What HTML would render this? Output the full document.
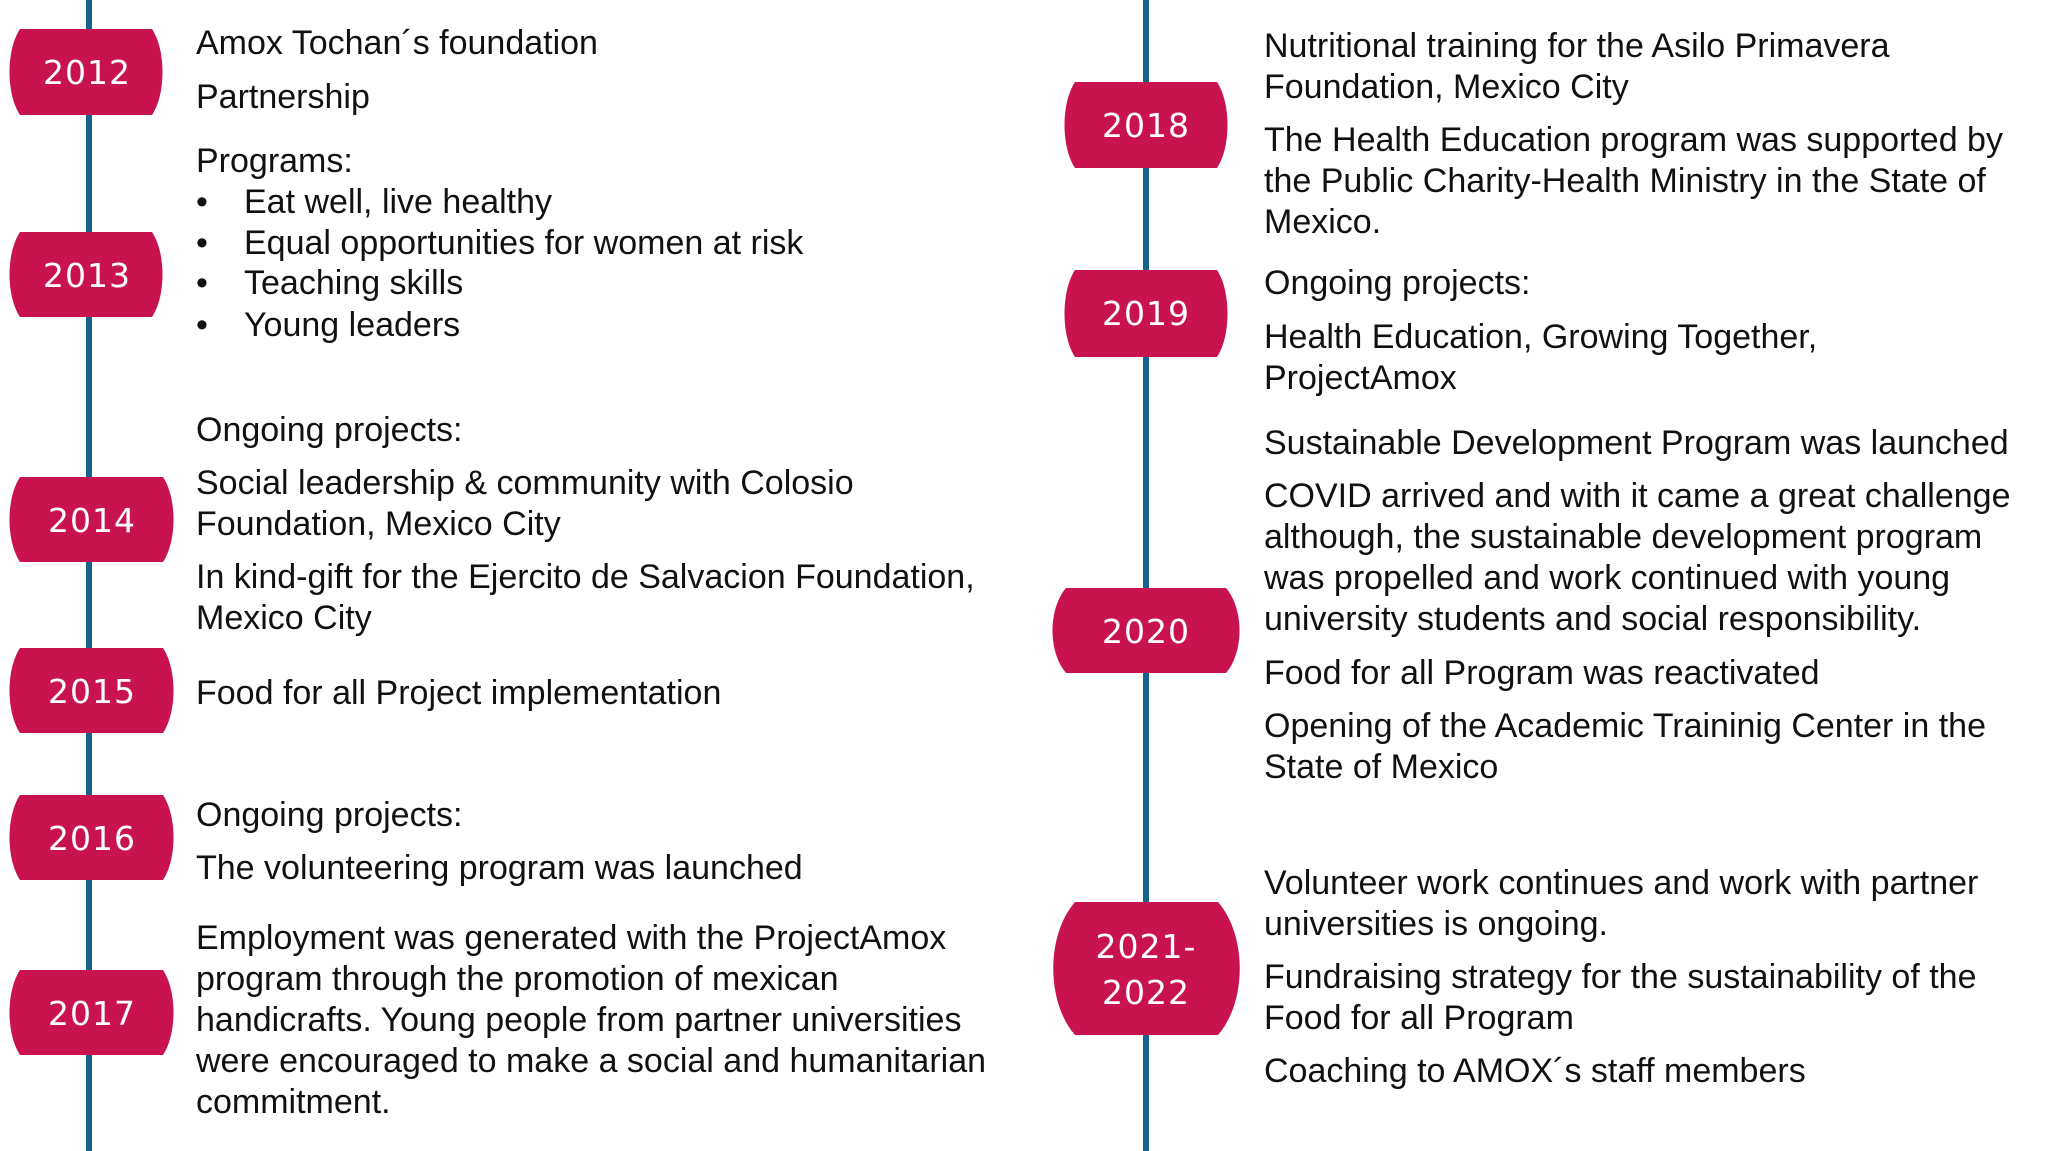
<!DOCTYPE html>
<html><head><meta charset="utf-8"><style>
html,body{margin:0;padding:0;background:#fff;}
body{width:2048px;height:1151px;position:relative;overflow:hidden;font-family:"Liberation Sans",Arial,sans-serif;}
.t{position:absolute;font-size:34px;line-height:41px;color:#111;white-space:nowrap;}
.b{position:absolute;font-size:34px;line-height:41px;color:#111;}
svg{position:absolute;left:0;top:0;}
.y{font-family:"DejaVu Sans","Liberation Sans",sans-serif;font-size:33px;fill:#fff;text-anchor:middle;letter-spacing:1px;}
</style></head><body>
<svg width="2048" height="1151">
<rect x="86" y="0" width="6" height="1151" fill="#16648C"/>
<rect x="1143" y="0" width="6" height="1151" fill="#16648C"/>
<g fill="#C8134F">
<path d="M20 29 H152 C166 50 166 94 152 115 H20 C6 94 6 50 20 29Z"/>
<path d="M20 232 H152 C166 253 166 296 152 317 H20 C6 296 6 253 20 232Z"/>
<path d="M20 477 H163 C177 498 177 541 163 562 H20 C6 541 6 498 20 477Z"/>
<path d="M20 648 H163 C177 669 177 712 163 733 H20 C6 712 6 669 20 648Z"/>
<path d="M20 795 H163 C177 816 177 859 163 880 H20 C6 859 6 816 20 795Z"/>
<path d="M20 970 H163 C177 991 177 1034 163 1055 H20 C6 1034 6 991 20 970Z"/>
<path d="M1075 82 H1217 C1231 103 1231 147 1217 168 H1075 C1061 147 1061 103 1075 82Z"/>
<path d="M1075 270 H1217 C1231 291 1231 336 1217 357 H1075 C1061 336 1061 291 1075 270Z"/>
<path d="M1066 588 H1226 C1244 609 1244 652 1226 673 H1066 C1048 652 1048 609 1066 588Z"/>
<path d="M1075 902 H1218 C1247 935 1247 1002 1218 1035 H1075 C1046 1002 1046 935 1075 902Z"/>
</g>
<text class="y" x="87" y="84">2012</text>
<text class="y" x="87" y="287">2013</text>
<text class="y" x="92" y="532">2014</text>
<text class="y" x="92" y="703">2015</text>
<text class="y" x="92" y="850">2016</text>
<text class="y" x="92" y="1025">2017</text>
<text class="y" x="1146" y="137">2018</text>
<text class="y" x="1146" y="325">2019</text>
<text class="y" x="1146" y="643">2020</text>
<text class="y" x="1146" y="958">2021-</text>
<text class="y" x="1146" y="1004">2022</text>
</svg>

<div class="t" style="left:196px;top:23px">Amox Tochan´s foundation</div>
<div class="t" style="left:196px;top:77px">Partnership</div>
<div class="t" style="left:196px;top:141px">Programs:</div>
<div class="t" style="left:196px;top:182px">•</div><div class="t" style="left:244px;top:182px">Eat well, live healthy</div>
<div class="t" style="left:196px;top:223px">•</div><div class="t" style="left:244px;top:223px">Equal opportunities for women at risk</div>
<div class="t" style="left:196px;top:263px">•</div><div class="t" style="left:244px;top:263px">Teaching skills</div>
<div class="t" style="left:196px;top:305px">•</div><div class="t" style="left:244px;top:305px">Young leaders</div>
<div class="t" style="left:196px;top:410px">Ongoing projects:</div>
<div class="t" style="left:196px;top:463px">Social leadership &amp; community with Colosio<br>Foundation, Mexico City</div>
<div class="t" style="left:196px;top:557px">In kind-gift for the Ejercito de Salvacion Foundation,<br>Mexico City</div>
<div class="t" style="left:196px;top:673px">Food for all Project implementation</div>
<div class="t" style="left:196px;top:795px">Ongoing projects:</div>
<div class="t" style="left:196px;top:848px">The volunteering program was launched</div>
<div class="t" style="left:196px;top:918px">Employment was generated with the ProjectAmox<br>program through the promotion of mexican<br>handicrafts. Young people from partner universities<br>were encouraged to make a social and humanitarian<br>commitment.</div>

<div class="t" style="left:1264px;top:26px">Nutritional training for the Asilo Primavera<br>Foundation, Mexico City</div>
<div class="t" style="left:1264px;top:120px">The Health Education program was supported by<br>the Public Charity-Health Ministry in the State of<br>Mexico.</div>
<div class="t" style="left:1264px;top:263px">Ongoing projects:</div>
<div class="t" style="left:1264px;top:317px">Health Education, Growing Together,<br>ProjectAmox</div>
<div class="t" style="left:1264px;top:423px">Sustainable Development Program was launched</div>
<div class="t" style="left:1264px;top:476px">COVID arrived and with it came a great challenge<br>although, the sustainable development program<br>was propelled and work continued with young<br>university students and social responsibility.</div>
<div class="t" style="left:1264px;top:653px">Food for all Program was reactivated</div>
<div class="t" style="left:1264px;top:706px">Opening of the Academic Traininig Center in the<br>State of Mexico</div>
<div class="t" style="left:1264px;top:863px">Volunteer work continues and work with partner<br>universities is ongoing.</div>
<div class="t" style="left:1264px;top:957px">Fundraising strategy for the sustainability of the<br>Food for all Program</div>
<div class="t" style="left:1264px;top:1051px">Coaching to AMOX´s staff members</div>
</body></html>
